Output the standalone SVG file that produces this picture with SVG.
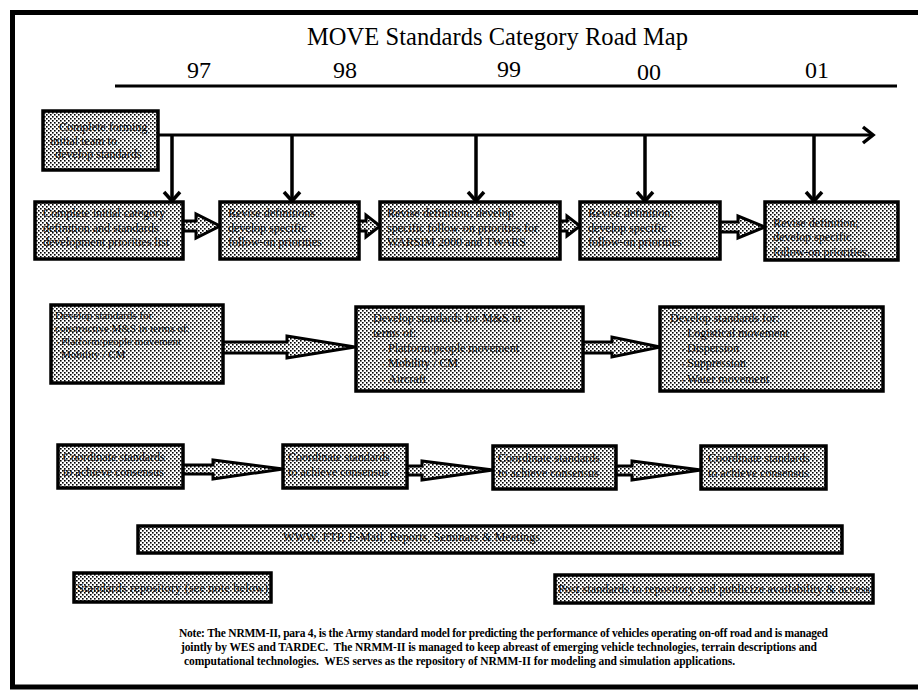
<svg xmlns="http://www.w3.org/2000/svg" width="918" height="690" viewBox="0 0 918 690">
  <defs>
    <!-- halftone dot fill used by every box and block arrow -->
    <pattern id="dots" width="4" height="4" patternUnits="userSpaceOnUse">
      <rect width="4" height="4" fill="#ffffff"/>
      <rect x="0" y="0" width="1.6" height="1.6" fill="#000"/>
      <rect x="2" y="2" width="1.6" height="1.6" fill="#000"/>
    </pattern>
  </defs>
  <style>
    text { font-family: "Liberation Serif", "Times New Roman", serif; fill: #000; }
    .box { fill: url(#dots); stroke: #000; stroke-width: 3.5; }
    .lbl { font-size: 12px; }
    .sm { font-size: 11px; }
    .yr { font-size: 24px; }
    .note { font-size: 11.5px; font-weight: bold; white-space: pre; }
    .rule { stroke: #000; stroke-width: 3; fill: none; }
    .drop { stroke: #000; stroke-width: 3.5; fill: none; }
    .chev { stroke: #000; stroke-width: 3.5; fill: none; stroke-linejoin: miter; }
    .blk { fill: url(#dots); stroke: #000; stroke-width: 3; stroke-linejoin: miter; }
    .bul { font-size: 7px; }
  </style>

  <rect x="0" y="0" width="918" height="690" fill="#ffffff"/>
  <!-- page frame -->
  <rect x="12.5" y="12.5" width="910" height="674.5" fill="none" stroke="#000" stroke-width="5"/>

  <!-- title and year scale -->
  <g id="title" font-family="Liberation Serif, serif">
    <text x="307" y="45" font-size="24.5" textLength="381">MOVE Standards Category Road Map</text>
    <text class="yr" x="187" y="78">97</text>
    <text class="yr" x="333" y="78">98</text>
    <text class="yr" x="497" y="77">99</text>
    <text class="yr" x="637" y="80">00</text>
    <text class="yr" x="805" y="78">01</text>
    <line class="rule" x1="115" y1="86" x2="897" y2="86"/>
  </g>

  <g id="connectors">
    <!-- timeline -->
    <line class="rule" x1="158" y1="135" x2="871" y2="135"/>
    <path class="chev" d="M863,127 L873,135 L863,143"/>
    <!-- drops to the yearly tasks -->
    <line class="drop" x1="172" y1="135" x2="172" y2="200"/>
    <line class="drop" x1="292" y1="135" x2="292" y2="200"/>
    <line class="drop" x1="476" y1="135" x2="476" y2="200"/>
    <line class="drop" x1="645" y1="135" x2="645" y2="200"/>
    <line class="drop" x1="814" y1="135" x2="814" y2="200"/>
    <path class="chev" d="M164,192 L172,201 L180,192"/>
    <path class="chev" d="M284,192 L292,201 L300,192"/>
    <path class="chev" d="M468,192 L476,201 L484,192"/>
    <path class="chev" d="M637,192 L645,201 L653,192"/>
    <path class="chev" d="M806,192 L814,201 L822,192"/>

    <!-- block arrows, row of yearly tasks -->
    <path class="blk" d="M183,221 L196,221 L196,214 L220,226 L196,238 L196,231 L183,231"/>
    <path class="blk" d="M359,221 L366,221 L366,215 L380,226 L366,237 L366,231 L359,231"/>
    <path class="blk" d="M560,221 L567,221 L567,216 L580,226 L567,236 L567,231 L560,231"/>
    <path class="blk" d="M720,222 L738,222 L738,216 L765,227 L738,238 L738,232 L720,232"/>

    <!-- block arrows, development row -->
    <path class="blk" d="M223,342 L287,342 L287,336 L355,347 L287,358 L287,353 L223,353"/>
    <path class="blk" d="M583,342 L612,342 L612,337 L660,347 L612,357 L612,353 L583,353"/>

    <!-- block arrows, coordination row -->
    <path class="blk" d="M183,465 L213,465 L213,460 L283,469 L213,479 L213,474 L183,474"/>
    <path class="blk" d="M407,466 L422,466 L422,461 L493,470 L422,480 L422,475 L407,475"/>
    <path class="blk" d="M616,466 L632,466 L632,461 L701,470 L632,480 L632,475 L616,475"/>
  </g>

  <g id="team">
    <rect class="box" x="43" y="111" width="115" height="59"/>
    <text class="lbl" x="59" y="131">Complete forming</text>
    <text class="lbl" x="50" y="145">initial team to</text>
    <text class="lbl" x="55" y="158">develop standards</text>
  </g>

  <g id="task97">
    <rect class="box" x="35" y="202" width="148" height="57"/>
    <text class="lbl" x="43" y="217">Complete initial category</text>
    <text class="lbl" x="43" y="232">definition and standards</text>
    <text class="lbl" x="43" y="246">development priorities list</text>
  </g>
  <g id="task98">
    <rect class="box" x="220" y="202" width="139" height="57"/>
    <text class="lbl" x="228" y="217">Revise definitions</text>
    <text class="lbl" x="228" y="232">develop specific</text>
    <text class="lbl" x="228" y="246">follow-on priorities</text>
  </g>
  <g id="task99">
    <rect class="box" x="380" y="202" width="180" height="57"/>
    <text class="lbl" x="387" y="217">Revise definition; develop</text>
    <text class="lbl" x="387" y="232">specific follow-on priorities for</text>
    <text class="lbl" x="387" y="246">WARSIM 2000 and TWARS</text>
  </g>
  <g id="task00">
    <rect class="box" x="580" y="202" width="140" height="57"/>
    <text class="lbl" x="588" y="217">Revise definition;</text>
    <text class="lbl" x="588" y="232">develop specific</text>
    <text class="lbl" x="588" y="246">follow-on priorities</text>
  </g>
  <g id="task01">
    <rect class="box" x="765" y="202" width="133" height="58"/>
    <text class="lbl" x="773" y="227">Revise definition;</text>
    <text class="lbl" x="773" y="241">develop specific</text>
    <text class="lbl" x="773" y="256">follow-on priorities.</text>
  </g>

  <g id="dev-constructive">
    <rect class="box" x="51" y="305" width="172" height="78"/>
    <text class="sm" x="55" y="319">Develop standards for</text>
    <text class="sm" x="55" y="332">constructive M&amp;S in terms of:</text>
    <text class="bul" x="57" y="345">•</text>
    <text class="sm" x="61" y="345">Platform/people movement</text>
    <text class="sm" x="61" y="358">Mobility / CM</text>
  </g>
  <g id="dev-ms">
    <rect class="box" x="356" y="307" width="227" height="84"/>
    <text class="lbl" x="373" y="322">Develop standards for M&amp;S in</text>
    <text class="lbl" x="373" y="337">terms of:</text>
    <text class="bul" x="383" y="352">•</text>
    <text class="lbl" x="388" y="352">Platform/people movement</text>
    <text class="bul" x="383" y="367">•</text>
    <text class="lbl" x="388" y="367">Mobility / CM</text>
    <text class="bul" x="383" y="383">•</text>
    <text class="lbl" x="388" y="383">Aircraft</text>
  </g>
  <g id="dev-other">
    <rect class="box" x="660" y="307" width="223" height="84"/>
    <text class="lbl" x="670" y="322">Develop standards for:</text>
    <text class="bul" x="682" y="337">•</text>
    <text class="lbl" x="687" y="337">Logistical movement</text>
    <text class="bul" x="682" y="352">•</text>
    <text class="lbl" x="687" y="352">Dispersion</text>
    <text class="bul" x="682" y="367">•</text>
    <text class="lbl" x="687" y="367">Suppression</text>
    <text class="bul" x="682" y="383">•</text>
    <text class="lbl" x="687" y="383">Water movement</text>
  </g>

  <g id="coord1">
    <rect class="box" x="58" y="445" width="125" height="43"/>
    <text class="lbl" x="63" y="461">Coordinate standards</text>
    <text class="lbl" x="63" y="476">to achieve consensus</text>
  </g>
  <g id="coord2">
    <rect class="box" x="283" y="445" width="124" height="43"/>
    <text class="lbl" x="288" y="461">Coordinate standards</text>
    <text class="lbl" x="288" y="476">to achieve consensus</text>
  </g>
  <g id="coord3">
    <rect class="box" x="493" y="446" width="123" height="43"/>
    <text class="lbl" x="498" y="462">Coordinate standards</text>
    <text class="lbl" x="498" y="477">to achieve consensus</text>
  </g>
  <g id="coord4">
    <rect class="box" x="701" y="446" width="125" height="43"/>
    <text class="lbl" x="708" y="462">Coordinate standards</text>
    <text class="lbl" x="708" y="477">to achieve consensus</text>
  </g>

  <g id="channels">
    <rect class="box" x="138" y="526" width="704" height="27"/>
    <text class="lbl" x="283" y="541" textLength="257">WWW, FTP, E-Mail, Reports, Seminars &amp; Meetings</text>
  </g>

  <g id="repository">
    <rect class="box" x="74" y="573" width="197" height="29"/>
    <text class="lbl" x="77" y="592" textLength="191">Standards repository (see note below)</text>
  </g>
  <g id="publish">
    <rect class="box" x="555" y="575" width="318" height="28"/>
    <text class="lbl" x="558" y="593" textLength="312">Post standards to repository and publicize availability &amp; access</text>
  </g>

  <g id="note">
    <text class="note" x="179" y="637" textLength="649">Note: The NRMM-II, para 4, is the Army standard model for predicting the performance of vehicles operating on-off road and is managed</text>
    <text class="note" x="181" y="651" textLength="636">jointly by WES and TARDEC.  The NRMM-II is managed to keep abreast of emerging vehicle technologies, terrain descriptions and</text>
    <text class="note" x="184" y="665" textLength="551">computational technologies.  WES serves as the repository of NRMM-II for modeling and simulation applications.</text>
  </g>
</svg>
